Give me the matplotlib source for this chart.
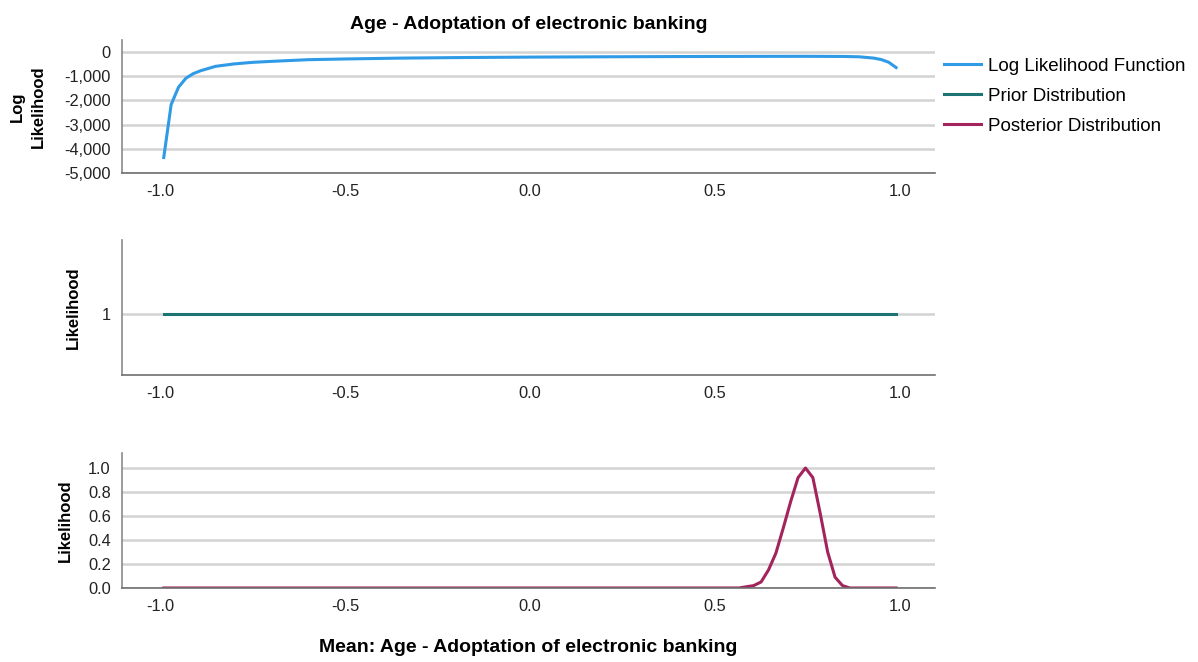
import matplotlib.pyplot as plt

plt.rcParams['font.family'] = ['Liberation Sans', 'DejaVu Sans']

# log likelihood of the mean correlation
loglik_x = [-0.99, -0.97, -0.95, -0.93, -0.91, -0.89, -0.85, -0.80, -0.75, -0.70,
            -0.60, -0.50, -0.35, -0.20, 0.0, 0.20, 0.40, 0.60, 0.75, 0.85,
            0.89, 0.93, 0.95, 0.97, 0.99]
loglik_y = [-4360, -2170, -1450, -1080, -890, -770, -590, -490, -425, -385,
            -315, -285, -250, -228, -208, -195, -185, -178, -175, -182,
            -195, -250, -310, -420, -640]

# flat prior
prior_x = [-0.99, 0.99]
prior_y = [1, 1]

# posterior
post_x = [-0.99, 0.50, 0.565, 0.585, 0.605, 0.625, 0.645, 0.665, 0.685, 0.705,
          0.725, 0.745, 0.765, 0.785, 0.805, 0.825, 0.845, 0.865, 0.99]
post_y = [0.0, 0.0, 0.0, 0.01, 0.02, 0.05, 0.15, 0.29, 0.50, 0.72,
          0.92, 1.0, 0.92, 0.62, 0.30, 0.09, 0.02, 0.0, 0.0]

xticks = [-1.0, -0.5, 0.0, 0.5, 1.0]
c_loglik = '#2f9ae6'
c_prior = '#1e7473'
c_post = '#a3245c'

fig = plt.figure(figsize=(11.98, 6.62), dpi=100)
left, width = 0.1018, 0.6786
ax1 = fig.add_axes([left, 0.7387, width, 0.2009])
ax2 = fig.add_axes([left, 0.4335, width, 0.2039])
ax3 = fig.add_axes([left, 0.1118, width, 0.2039])

for ax in (ax1, ax2, ax3):
    ax.set_xlim(-1.103, 1.095)
    ax.set_xticks(xticks)
    ax.set_xticklabels(['%.1f' % t for t in xticks])
    for s in ('top', 'right'):
        ax.spines[s].set_visible(False)
    ax.spines['left'].set_color('#8a8a8a')
    ax.spines['bottom'].set_color('#6f6f6f')
    ax.spines['left'].set_linewidth(1.2)
    ax.spines['bottom'].set_linewidth(1.2)
    ax.tick_params(length=0, labelsize=11.8, colors='#222222')
    ax.tick_params(axis='x', pad=8)
    ax.tick_params(axis='y', pad=8)
    ax.grid(axis='y', color='#d3d3d3', linewidth=1.8)
    ax.set_axisbelow(True)

l1, = ax1.plot(loglik_x, loglik_y, color=c_loglik, lw=2.2)
ax1.set_ylim(-5000, 500)
ax1.set_yticks([0, -1000, -2000, -3000, -4000, -5000])
ax1.set_yticklabels(['0', '-1,000', '-2,000', '-3,000', '-4,000', '-5,000'])
ax1.set_ylabel('Log\nLikelihood', fontsize=12, fontweight='bold', labelpad=13,
               linespacing=1.5)
ax1.set_title('Age - Adoptation of electronic banking', fontsize=14,
              fontweight='bold', pad=8)

l2, = ax2.plot(prior_x, prior_y, color=c_prior, lw=2.2)
ax2.set_ylim(0.5, 1.6)
ax2.set_yticks([1])
ax2.set_ylabel('Likelihood', fontsize=12, fontweight='bold', labelpad=15)

l3, = ax3.plot(post_x, post_y, color=c_post, lw=2.2)
ax3.set_ylim(0, 1.125)
ax3.set_yticks([0, 0.2, 0.4, 0.6, 0.8, 1.0])
ax3.set_yticklabels(['%.1f' % t for t in [0, 0.2, 0.4, 0.6, 0.8, 1.0]])
ax3.set_ylabel('Likelihood', fontsize=12, fontweight='bold', labelpad=11)
ax3.set_xlabel('Mean: Age - Adoptation of electronic banking', fontsize=14,
               fontweight='bold', labelpad=18)

fig.legend([l1, l2, l3],
           ['Log Likelihood Function', 'Prior Distribution', 'Posterior Distribution'],
           loc='upper left', bbox_to_anchor=(0.782, 0.924), frameon=False,
           fontsize=13.5, handlelength=1.95, handletextpad=0.4, labelspacing=0.68,
           borderaxespad=0)

fig.savefig('out.png', dpi=100)
